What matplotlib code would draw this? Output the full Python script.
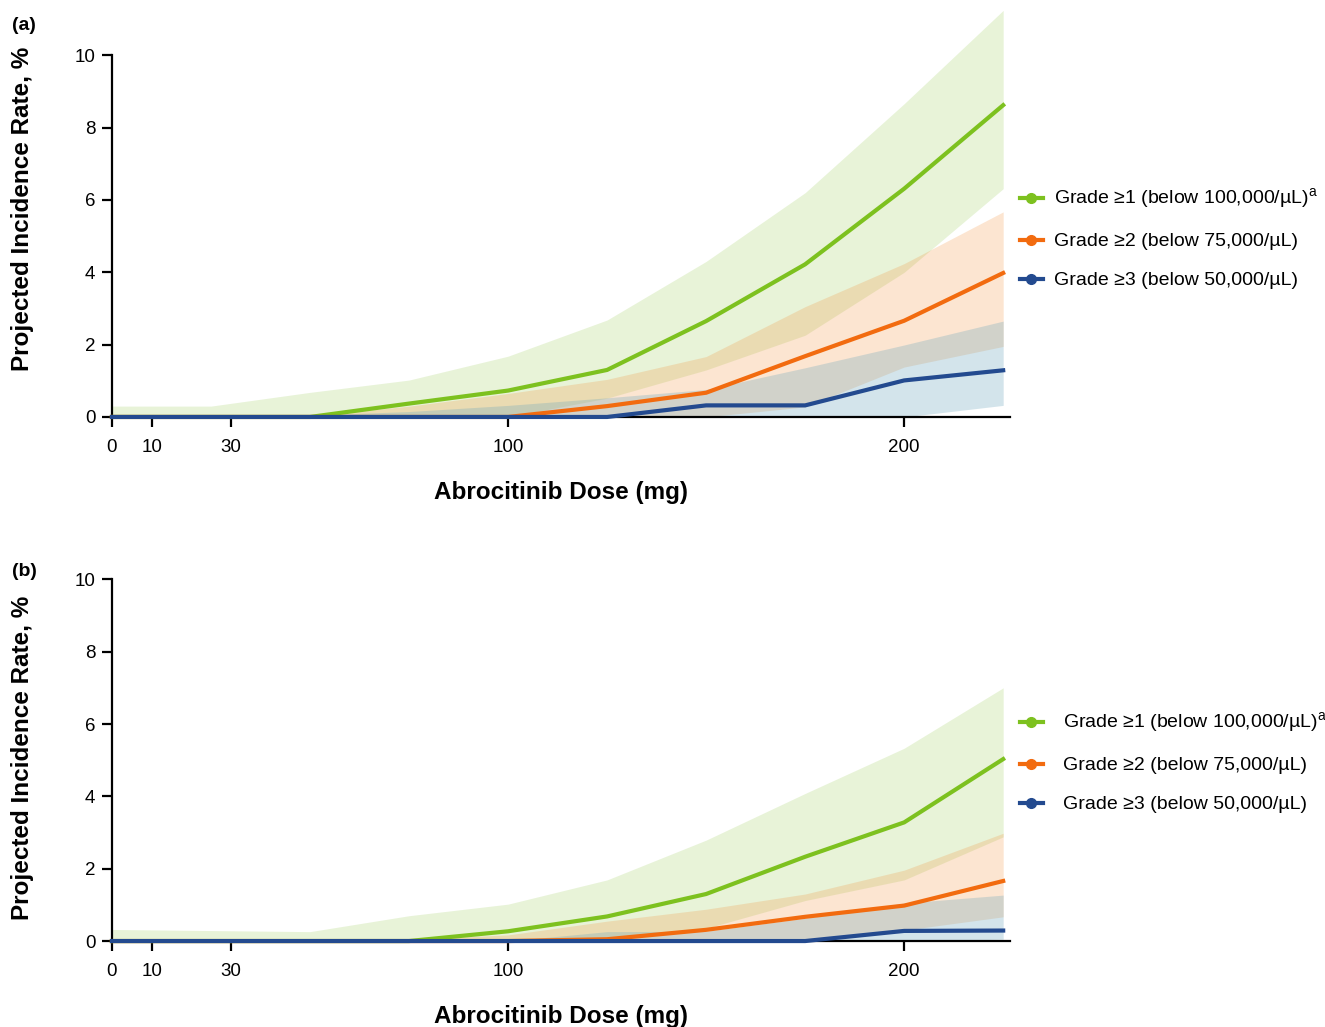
import matplotlib
matplotlib.use("Agg")
import matplotlib.pyplot as plt

plt.rcParams['font.family'] = ['Liberation Sans', 'DejaVu Sans']
plt.rcParams['mathtext.fontset'] = 'custom'
plt.rcParams['mathtext.rm'] = 'Liberation Sans'

# Doses (mg) where the model was evaluated
doses = [0, 25, 50, 75, 100, 125, 150, 175, 200, 225]
x_ticks = [0, 10, 30, 100, 200]
y_ticks = [0, 2, 4, 6, 8, 10]

labels = ["Grade \u22651 (below 100,000/\u00b5L)$^{\\mathregular{a}}$",
          "Grade \u22652 (below 75,000/\u00b5L)",
          "Grade \u22653 (below 50,000/\u00b5L)"]

# panel (a)
green_a = [0, 0, 0, 0.37, 0.73, 1.30, 2.65, 4.22, 6.31, 8.62]
green_a_hi = [0.30, 0.30, 0.68, 1.02, 1.68, 2.68, 4.30, 6.20, 8.66, 11.24]
green_a_lo = [0, 0, 0, 0, 0, 0.52, 1.30, 2.26, 4.00, 6.31]
orange_a = [0, 0, 0, 0, 0, 0.30, 0.67, 1.68, 2.66, 3.98]
orange_a_hi = [0, 0, 0.02, 0.30, 0.65, 1.04, 1.67, 3.05, 4.24, 5.67]
orange_a_lo = [0, 0, 0, 0, 0, 0, 0, 0.28, 1.38, 1.95]
blue_a = [0, 0, 0, 0, 0, 0, 0.32, 0.32, 1.01, 1.29]
blue_a_hi = [0, 0, 0.05, 0.15, 0.32, 0.53, 0.76, 1.36, 1.99, 2.65]
blue_a_lo = [0, 0, 0, 0, 0, 0, 0, 0, 0, 0.32]

# panel (b)
green_b = [0, 0, 0, 0, 0.27, 0.68, 1.30, 2.33, 3.28, 5.03]
green_b_hi = [0.32, 0.29, 0.26, 0.70, 1.02, 1.69, 2.79, 4.08, 5.33, 7.00]
green_b_lo = [0, 0, 0, 0, 0, 0, 0.35, 1.12, 1.69, 2.88]
orange_b = [0, 0, 0, 0, 0, 0.05, 0.31, 0.67, 0.98, 1.66]
orange_b_hi = [0, 0, 0, 0.05, 0.17, 0.55, 0.88, 1.30, 1.96, 2.98]
orange_b_lo = [0, 0, 0, 0, 0, 0, 0, 0, 0.30, 0.67]
blue_b = [0, 0, 0, 0, 0, 0, 0, 0, 0.28, 0.29]
blue_b_hi = [0, 0, 0, 0, 0, 0.26, 0.27, 0.63, 1.05, 1.27]
blue_b_lo = [0, 0, 0, 0, 0, 0, 0, 0, 0, 0.05]

line_colors = ['#7dc11f', '#f26b0f', '#234a8f']
band_colors = ['#8cc63f', '#f28a2e', '#6fa8bd']
band_alpha = [0.2, 0.22, 0.3]


def draw_panel(ax, series, text_pad, ylabel_y):
    for i, (mid, lo, hi) in enumerate(series):
        ax.fill_between(doses, lo, hi, color=band_colors[i], alpha=band_alpha[i],
                        linewidth=0, zorder=1)
    for i, (mid, lo, hi) in enumerate(series):
        ax.plot(doses, mid, color=line_colors[i], lw=3, zorder=5 + i,
                clip_on=False, solid_joinstyle='miter')

    ax.set_xlim(0, 226.7)
    ax.set_ylim(0, 11.3)
    ax.spines['top'].set_visible(False)
    ax.spines['right'].set_visible(False)
    ax.spines['left'].set_bounds(0, 10)
    for s in ['left', 'bottom']:
        ax.spines[s].set_linewidth(1.6)
    ax.set_xticks(x_ticks)
    ax.set_yticks(y_ticks)
    ax.tick_params(axis='both', direction='out', length=7, width=1.6, labelsize=13.5)
    ax.tick_params(axis='x', pad=9)
    ax.tick_params(axis='y', pad=5)
    ax.set_xlabel('Abrocitinib Dose (mg)', fontsize=17.5, fontweight='bold', labelpad=18)
    ax.set_ylabel('Projected Incidence Rate, %', fontsize=17.5, fontweight='bold')
    ax.yaxis.set_label_coords(-0.0865, ylabel_y)

    handles = [plt.Line2D([], [], color=c, lw=3, marker='o', markersize=7)
               for c in line_colors]
    ax.legend(handles, labels, loc='center left', bbox_to_anchor=(1.011, 0.4377),
              frameon=False, fontsize=14, handlelength=1.2, handletextpad=text_pad,
              labelspacing=1.1, borderaxespad=0, borderpad=0)


fig = plt.figure(figsize=(13.25, 10.27), dpi=100)
ax_a = fig.add_axes([0.0845, 0.594, 0.6777, 0.398])
ax_b = fig.add_axes([0.0845, 0.0837, 0.6777, 0.398])

draw_panel(ax_a, [(green_a, green_a_lo, green_a_hi),
                  (orange_a, orange_a_lo, orange_a_hi),
                  (blue_a, blue_a_lo, blue_a_hi)], 0.55, 0.509)
draw_panel(ax_b, [(green_b, green_b_lo, green_b_hi),
                  (orange_b, orange_b_lo, orange_b_hi),
                  (blue_b, blue_b_lo, blue_b_hi)], 1.0, 0.449)

fig.text(12 / 1325, 1 - 26 / 1027, '(a)', fontsize=14, fontweight='bold', va='center')
fig.text(12 / 1325, 1 - 572 / 1027, '(b)', fontsize=14, fontweight='bold', va='center')

fig.savefig('out.png', dpi=100)
